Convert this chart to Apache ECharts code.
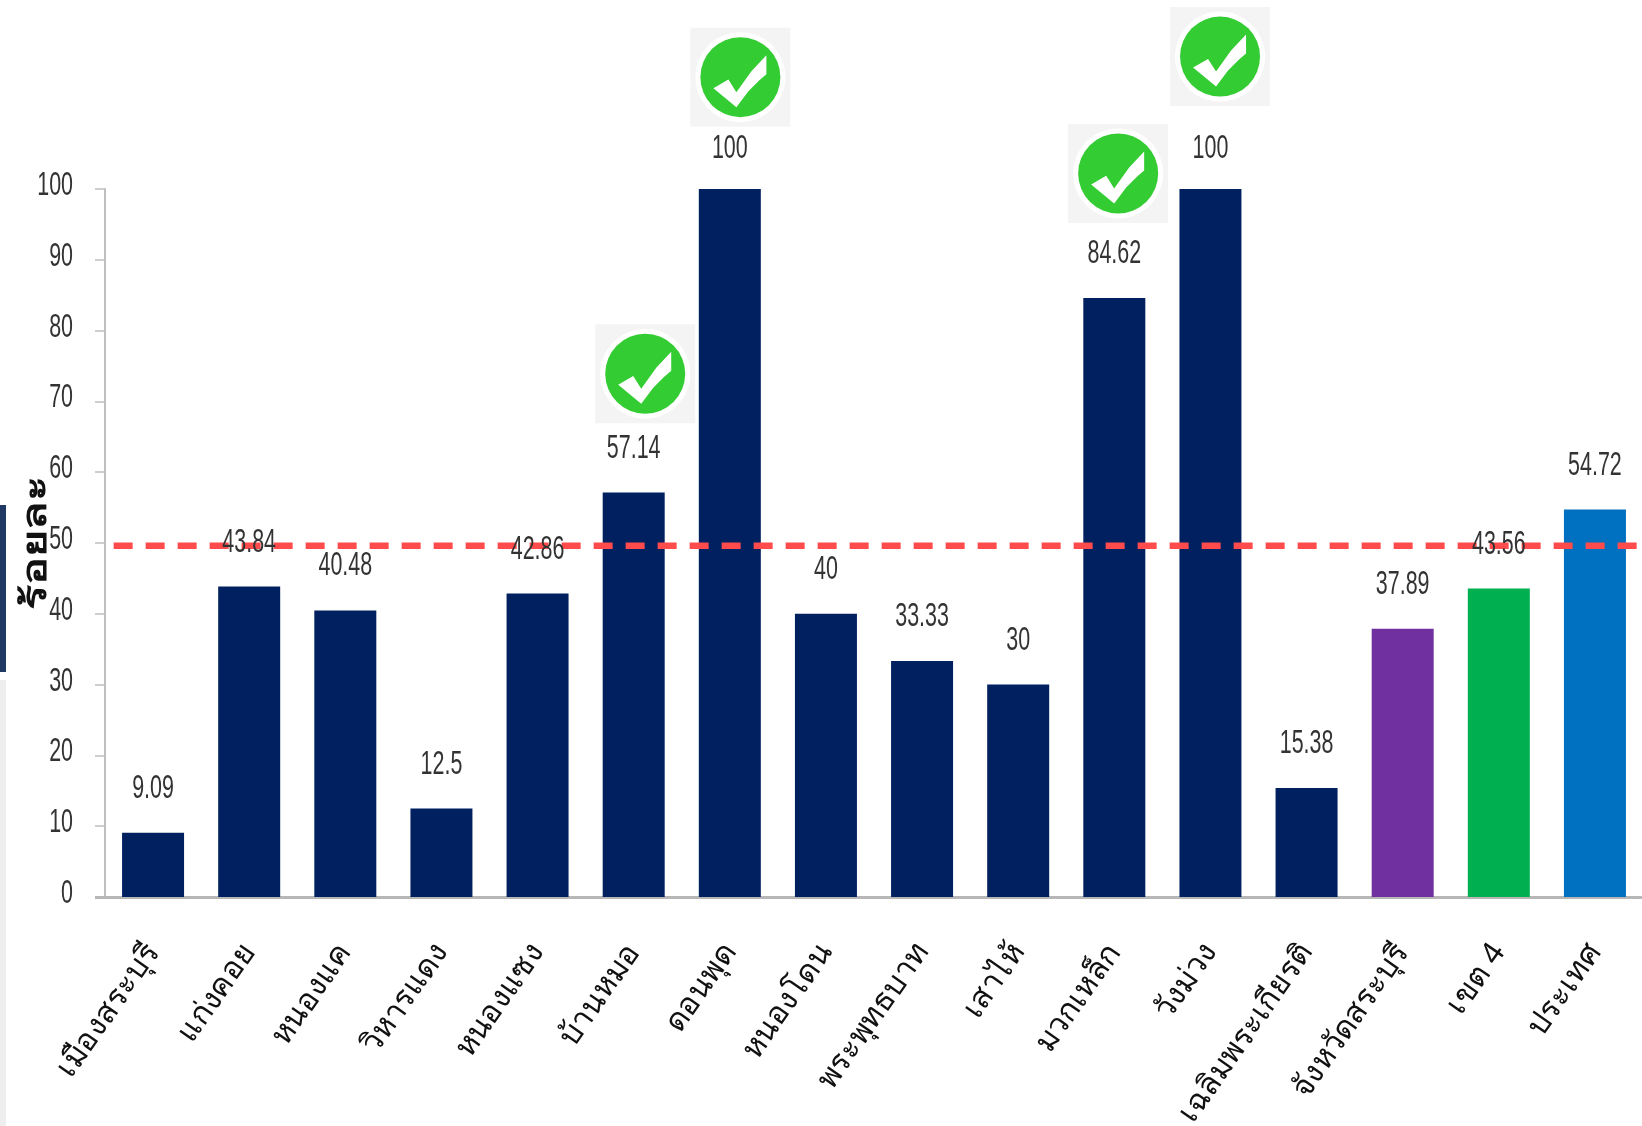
<!DOCTYPE html>
<html><head><meta charset="utf-8">
<style>html,body{margin:0;padding:0;background:#fff}#c{width:1642px;height:1126px}</style>
<script src="https://cdn.jsdelivr.net/npm/echarts@6/dist/echarts.min.js"></script>
</head><body><div id="c"></div>
<script>
const categories = ['เมืองสระบุรี','แก่งคอย','หนองแค','วิหารแดง','หนองแซง','บ้านหมอ','ดอนพุด','หนองโดน','พระพุทธบาท','เสาไห้','มวกเหล็ก','วังม่วง','เฉลิมพระเกียรติ','จังหวัดสระบุรี','เขต 4','ประเทศ'];
const values = [9.09,43.84,40.48,12.5,42.86,57.14,100,40,33.33,30,84.62,100,15.38,37.89,43.56,54.72];
const barColors = ['#002060','#002060','#002060','#002060','#002060','#002060','#002060','#002060','#002060','#002060','#002060','#002060','#002060','#7030a0','#00b050','#0070c0'];
const yTicks = [0,10,20,30,40,50,60,70,80,90,100];
const targetLevel = 49.6;
const checkX = [5.12,6.11,10.04,11.1];
const checkY = [73.9,115.8,102.2,118.7];
const NUM = '33px "Liberation Sans",sans-serif';
const THAI = '"Noto Sans","DejaVu Sans",sans-serif';
const chart = echarts.init(document.getElementById('c'),null,{renderer:'canvas'});
const tick = [[-27,11],[-12,2.3],[-4,15],[11,-6],[26,-22],[26,-3],[19,3],[8,14],[-4,30]];
chart.setOption({
  animation:false,
  backgroundColor:'#fff',
  grid:{left:105,top:189,width:1538,height:708,containLabel:false,outerBoundsMode:'none'},
  xAxis:[
    {type:'category',data:categories,boundaryGap:true,
     axisLine:{show:true,lineStyle:{color:'#b7b7b7',width:3}},axisTick:{show:false},
     axisLabel:{interval:0,rotate:55,margin:50,fontSize:31,color:'#111',fontFamily:THAI}},
    {type:'value',show:false,min:-0.5,max:15.5,position:'bottom'}
  ],
  yAxis:{type:'value',min:0,max:100,interval:10,
    axisLine:{show:true,onZero:false,lineStyle:{color:'#bfbfbf',width:2}},
    axisTick:{show:true,length:10,lineStyle:{color:'#bfbfbf',width:1.5}},
    splitLine:{show:false},
    axisLabel:{show:false}},
  series:[
    {type:'bar',name:'bars',z:2,barWidth:62,
     data:values.map((v,i)=>({value:v,itemStyle:{color:barColors[i]}}))},
    {type:'line',name:'target',xAxisIndex:1,z:3,symbol:'none',silent:true,
     lineStyle:{color:'#ff4b4b',width:6.5,type:[19,13]},
     data:[[-0.41,targetLevel],[15.5,targetLevel]]},
    {type:'custom',name:'valueLabels',xAxisIndex:1,z:4,silent:true,clip:false,
     data:values.map((v,i)=>[i,v]),
     renderItem:function(p,api){
       const v=api.value(1), c=api.coord([api.value(0),v]);
       return {type:'text',x:c[0],y:c[1]-(v>=100?40:44),scaleX:0.65,
         style:{text:String(v),font:NUM,fill:'#333',align:'center',verticalAlign:'middle'}};
     }},
    {type:'custom',name:'yLabels',xAxisIndex:1,z:4,silent:true,clip:false,
     data:yTicks.map(v=>[-0.5,v]),
     renderItem:function(p,api){
       const v=api.value(1), c=api.coord([api.value(0),v]);
       return {type:'text',x:c[0]-32,y:c[1]-3,scaleX:0.65,
         style:{text:String(v),font:NUM,fill:'#333',align:'right',verticalAlign:'middle'}};
     }},
    {type:'custom',name:'checks',xAxisIndex:1,z:5,silent:true,clip:false,
     data:checkX.map((x,i)=>[x,checkY[i]]),
     renderItem:function(p,api){
       const c=api.coord([api.value(0),api.value(1)]);
       return {type:'group',x:c[0],y:c[1],children:[
         {type:'rect',shape:{x:-50,y:-49.5,width:100,height:99},style:{fill:'#f4f4f4'}},
         {type:'circle',shape:{cx:0,cy:0,r:45},style:{fill:'#fff'}},
         {type:'circle',shape:{cx:0,cy:0,r:40},style:{fill:'#33cc33'}},
         {type:'polygon',shape:{points:tick},style:{fill:'#fff'}}
       ]};
     }}
  ],
  graphic:[
    {type:'rect',left:0,top:505,shape:{width:6,height:167},style:{fill:'#1f3864'},z:0},
    {type:'rect',left:0,top:680,shape:{width:6,height:446},style:{fill:'#eeeeee'},z:0},
    {type:'rect',left:95,top:896,shape:{width:10,height:3},style:{fill:'#b7b7b7'},z:1},
    {type:'text',x:36,y:543,rotation:Math.PI/2,scaleX:1.38,z:6,
     style:{text:'ร้อยละ',font:'bold 34px '+THAI,fill:'#111',align:'center',verticalAlign:'middle'}}
  ]
});
</script></body></html>
